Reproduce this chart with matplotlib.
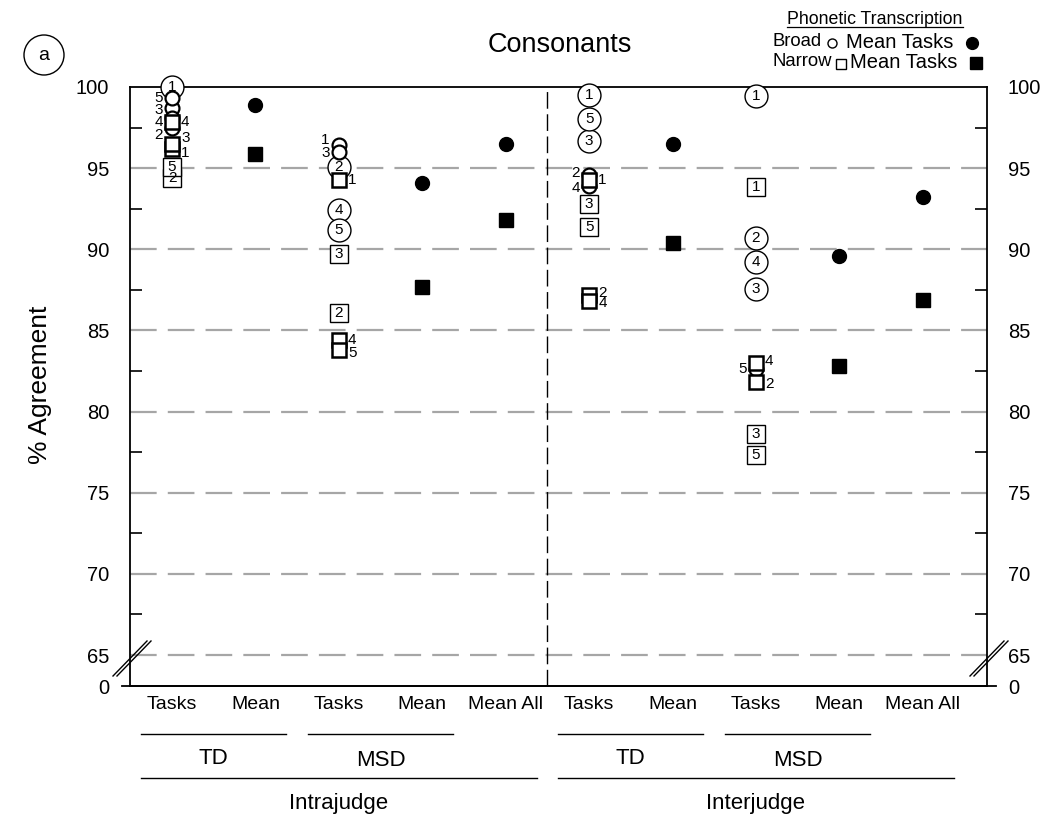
import matplotlib
matplotlib.use("Agg")
import matplotlib.pyplot as plt
from matplotlib.lines import Line2D
from matplotlib.patches import Ellipse
from matplotlib.transforms import blended_transform_factory

plt.rcParams['font.family'] = ['Liberation Sans', 'DejaVu Sans']

# ---------------- data ----------------
categories = ["Tasks", "Mean", "Tasks", "Mean", "Mean All",
              "Tasks", "Mean", "Tasks", "Mean", "Mean All"]
task_ids = [1, 2, 3, 4, 5]

# Broad (circles) per task 1..5, for the four "Tasks" columns
intra_td_broad = [100.0, 97.5, 98.7, 98.1, 99.3]
intra_msd_broad = [96.4, 95.1, 96.0, 92.4, 91.2]
inter_td_broad = [99.5, 94.6, 96.7, 93.9, 98.0]
inter_msd_broad = [99.45, 90.7, 87.55, 89.2, 82.6]

# Narrow (squares) per task 1..5
intra_td_narrow = [96.2, 94.4, 96.5, 97.85, 95.1]
intra_msd_narrow = [94.3, 86.1, 89.7, 84.4, 83.8]
inter_td_narrow = [94.3, 87.2, 92.8, 86.8, 91.4]
inter_msd_narrow = [93.85, 81.85, 78.6, 83.0, 77.3]

# Means (columns: Mean TD, Mean MSD, Mean All) for intra and inter
mean_cols = [1, 3, 4, 6, 8, 9]
mean_broad = [98.9, 94.1, 96.5, 96.5, 89.6, 93.2]
mean_narrow = [95.9, 87.7, 91.8, 90.4, 82.8, 86.9]

yticks = [65, 70, 75, 80, 85, 90, 95, 100]
minor_yticks = [67.5, 72.5, 77.5, 82.5, 87.5, 92.5, 97.5]

# ---------------- style ----------------
task_cols = [0, 2, 5, 7]
broad_sets = [intra_td_broad, intra_msd_broad, inter_td_broad, inter_msd_broad]
narrow_sets = [intra_td_narrow, intra_msd_narrow, inter_td_narrow, inter_msd_narrow]
# label placement: (side, dy in points)
broad_lab = [
    [('c', 0), ('l', -5), ('l', -1.5), ('l', -3), ('l', 0)],
    [('l', 4), ('c', 0), ('l', -1), ('c', 0), ('c', 0)],
    [('c', 0), ('l', 1.5), ('c', 0), ('l', -1.5), ('c', 0)],
    [('c', 0), ('c', 0), ('c', 0), ('c', 0), ('l', 0)],
]
narrow_lab = [
    [('r', -3), ('c', 0), ('r', 4), ('r', 0), ('c', 0)],
    [('r', 0), ('c', 0), ('c', 0), ('r', 0), ('r', -2)],
    [('r', 0), ('r', 1), ('c', 0), ('r', -1.5), ('c', 0)],
    [('c', 0), ('r', -2), ('c', 0), ('r', 1), ('c', 0)],
]

W, H = 1050, 821
fig = plt.figure(figsize=(W / 100, H / 100), dpi=100)
ax = fig.add_axes([130 / W, 1 - 686 / H, (987 - 130) / W, (686 - 87) / H])

ybot = 65 - 31 / 16.23
ax.set_ylim(ybot, 100)
ax.set_xlim(-0.504, 9.77)

for g in yticks[:-1]:
    ax.axhline(g, color='#a6a6a6', lw=1.6, dashes=(12, 5), zorder=0)
ax.axvline(4.5, color='black', lw=1.0, dashes=(12, 4), zorder=0)

ax.set_yticks([ybot] + yticks)
ax.set_yticklabels(["0"] + [str(t) for t in yticks])
ax.set_yticks(minor_yticks, minor=True)
ax.tick_params(axis='y', which='major', length=0, labelsize=14.5,
               right=True, labelright=True, pad=15)
ax.tick_params(axis='y', which='minor', direction='in', length=8.5, width=1.2,
               right=True)
ax.set_xticks(range(len(categories)))
ax.set_xticklabels(categories)
ax.tick_params(axis='x', length=0, labelsize=14, pad=7)
for s in ax.spines.values():
    s.set_linewidth(1.3)


def fy(py):
    return 1 - py / H


# bottom baseline extends past both side axes (the "0" ticks)
fig.add_artist(Line2D([122 / W, 996 / W], [fy(686)] * 2, color='black', lw=1.3))


def place_label(x, y, n, side, dy, fs=11):
    if side == 'c':
        ax.text(x, y, str(n), ha='center', va='center', fontsize=fs, zorder=6)
    elif side == 'l':
        ax.annotate(str(n), (x, y), xytext=(-6.5, dy), textcoords='offset points',
                    ha='right', va='center', fontsize=fs, zorder=6)
    else:
        ax.annotate(str(n), (x, y), xytext=(6.5, dy), textcoords='offset points',
                    ha='left', va='center', fontsize=fs, zorder=6)


for col, vals, labs in zip(task_cols, broad_sets, broad_lab):
    for n, v, (side, dy) in zip(task_ids, vals, labs):
        ms = 16.5 if side == 'c' else 10
        mew = 1.0 if side == 'c' else 1.6
        ax.plot([col], [v], marker='o', ms=ms, mfc='white', mec='black',
                mew=mew, zorder=3, clip_on=False)
        place_label(col, v, n, side, dy)

for col, vals, labs in zip(task_cols, narrow_sets, narrow_lab):
    for n, v, (side, dy) in zip(task_ids, vals, labs):
        ms = 13 if side == 'c' else 9.5
        mew = 1.0 if side == 'c' else 1.8
        ax.plot([col], [v], marker='s', ms=ms, mfc='white', mec='black',
                mew=mew, zorder=4, clip_on=False)
        place_label(col, v, n, side, dy)

ax.plot(mean_cols, mean_broad, 'o', color='black', ms=10, ls='none', zorder=5)
ax.plot(mean_cols, mean_narrow, 's', color='black', ms=9.5, ls='none', zorder=5)

# ---------- bottom group annotations ----------
tb = blended_transform_factory(ax.transData, fig.transFigure)


def group(x0, x1, py_line, py_text, label, fs):
    fig.add_artist(Line2D([x0 - 0.37, x1 + 0.37], [fy(py_line)] * 2,
                          transform=tb, color='black', lw=1.0))
    fig.text((x0 + x1) / 2, fy(py_text), label, transform=tb, ha='center',
             va='center', fontsize=fs)


group(0, 1, 734, 758, "TD", 16)
group(2, 3, 734, 760, "MSD", 16)
group(5, 6, 734, 758, "TD", 16)
group(7, 8, 734, 760, "MSD", 16)
group(0, 4, 778, 803, "Intrajudge", 16)
group(5, 9, 778, 803, "Interjudge", 16)

# ---------- axis breaks ----------
for cx in (130, 987):
    for off in (0, 4):
        fig.add_artist(Line2D([(cx - 17 + off) / W, (cx + 17 + off) / W],
                              [fy(676), fy(641)], color='black', lw=1.0))

# ---------- titles / labels ----------
fig.text(560 / W, fy(45), "Consonants", ha='center', va='center', fontsize=19.5)
fig.text(40 / W, fy(385), "% Agreement", ha='center', va='center',
         rotation=90, fontsize=19)
fig.add_artist(Ellipse((44 / W, fy(55)), 40 / W, 40 / H, transform=fig.transFigure,
                       fill=False, ec='black', lw=1.0))
fig.text(44 / W, fy(56), "a", ha='center', va='center', fontsize=14)

# ---------- legend ----------
fig.text(787 / W, fy(19), "Phonetic Transcription", ha='left', va='center',
         fontsize=12.8)
fig.add_artist(Line2D([787 / W, 963 / W], [fy(27)] * 2, color='black', lw=0.9))
fig.text(773 / W, fy(42), "Broad", ha='left', va='center', fontsize=13.3)
fig.text(846 / W, fy(42), "Mean Tasks", ha='left', va='center', fontsize=14.5)
fig.text(773 / W, fy(62), "Narrow", ha='left', va='center', fontsize=13.3)
fig.text(850 / W, fy(62), "Mean Tasks", ha='left', va='center', fontsize=14.5)
legend_marks = [
    (832, 43, 'o', 6.5, 'white'),
    (972, 43, 'o', 8.5, 'black'),
    (840.5, 64, 's', 7.0, 'white'),
    (976, 63, 's', 8.5, 'black'),
]
for px, py, mk, ms, fc in legend_marks:
    fig.add_artist(Line2D([px / W], [fy(py)], marker=mk, ms=ms, mfc=fc,
                          mec='black', mew=1.0, ls='none'))

fig.savefig("out.png", dpi=100)
